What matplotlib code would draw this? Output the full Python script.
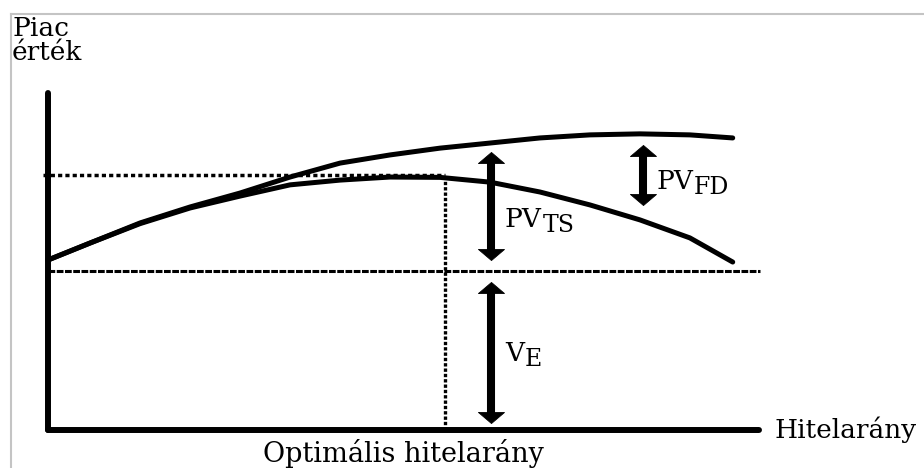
import matplotlib.pyplot as plt
from matplotlib.lines import Line2D

plt.rcParams['font.family'] = ['DejaVu Serif']

# upper curve: value with tax shield only
debt_upper = [0, 5.9, 12.9, 19.9, 26.9, 33.9, 40.9, 47.9, 54.9, 61.9, 68.9, 75.9, 82.9, 89.9, 95.9]
value_upper = [50.0, 55.0, 60.9, 65.6, 69.7, 74.4, 78.5, 80.9, 82.9, 84.4, 85.9, 86.8, 87.1, 86.8, 85.9]

# lower curve: market value (tax shield minus financial distress)
debt_lower = [0, 5.9, 12.9, 19.9, 26.9, 33.9, 40.9, 47.9, 54.9, 61.9, 68.9, 75.9, 82.9, 89.9, 95.9]
value_lower = [50.0, 55.0, 60.7, 65.3, 68.8, 72.1, 73.5, 74.4, 74.3, 72.9, 70.0, 66.2, 61.8, 56.5, 49.4]

ve_level = 46.8
opt_debt = 55.6
opt_value = 75.0

# double arrows: x, y from, y to
arrow_pvts = (62.0, 50.0, 81.8)
arrow_pvfd = (83.3, 66.2, 83.8)
arrow_ve = (62.0, 2.1, 43.5)

fig = plt.figure(figsize=(9.24, 4.68), dpi=100)
ax = fig.add_axes([48/924, 38/468, 714/924, 340/468])
ax.set_xlim(0, 100)
ax.set_ylim(0, 100)
ax.axis('off')

# light grey frame (top and left only)
fig.add_artist(Line2D([11/924, 1], [1-14/468, 1-14/468], color='#c4c4c4', lw=1.5))
fig.add_artist(Line2D([11/924, 11/924], [0, 1-14/468], color='#c4c4c4', lw=1.5))

# axes
ax.plot([0, 0], [0, 99.1], color='k', lw=4.3, solid_capstyle='round', clip_on=False)
ax.plot([0, 99.6], [0, 0], color='k', lw=4.3, solid_capstyle='round', clip_on=False)

# reference lines
ax.plot([0, 99.7], [ve_level, ve_level], color='k', lw=2.2, linestyle=(0, (2.2, 0.5)), clip_on=False)
ax.plot([-0.7, opt_debt], [opt_value, opt_value], color='k', lw=2.5, linestyle=(0, (1.2, 0.9)), clip_on=False)
ax.plot([opt_debt, opt_debt], [0, opt_value - 1], color='k', lw=2.4, linestyle=(0, (1.0, 0.6)), clip_on=False)

# curves
ax.plot(debt_upper, value_upper, color='k', lw=3.6, solid_capstyle='round', solid_joinstyle='round', clip_on=False)
ax.plot(debt_lower, value_lower, color='k', lw=3.6, solid_capstyle='round', solid_joinstyle='round', clip_on=False)

# flat triangular arrow heads, base at the marker position
head_up = [(-1, 0), (1, 0), (0, 0.85), (-1, 0)]
head_down = [(-1, 0), (1, 0), (0, -0.85), (-1, 0)]
head_len = 3.2  # y units


def double_arrow(x, y0, y1):
    ax.plot([x, x], [y0 + head_len - 0.6, y1 - head_len + 0.6], color='k', lw=5.8,
            solid_capstyle='butt', clip_on=False)
    ax.plot([x], [y1 - head_len], marker=head_up, ms=18.7, color='k', mew=0.6, clip_on=False)
    ax.plot([x], [y0 + head_len], marker=head_down, ms=18.7, color='k', mew=0.6, clip_on=False)


for a in (arrow_pvts, arrow_pvfd, arrow_ve):
    double_arrow(*a)


def label(x, y, main, sub):
    t = ax.text(x, y, main, fontsize=19, ha='left', va='bottom')
    ax.annotate(sub, xy=(1, 0), xycoords=t, xytext=(0.3, -3.6), textcoords='offset points',
                fontsize=17, ha='left', va='bottom')


label(64.0, 58.2, 'PV', 'TS')
label(85.2, 69.4, 'PV', 'FD')
label(64.0, 18.8, 'V', 'E')

ax.text(-5.04, 116.0, 'Piac', fontsize=19, ha='left', va='baseline')
ax.text(-5.04, 108.7, 'érték', fontsize=19, ha='left', va='baseline')
ax.text(101.8, -2.35, 'Hitelarány', fontsize=19, ha='left', va='baseline')
ax.text(49.8, -9.4, 'Optimális hitelarány', fontsize=19.5, ha='center', va='baseline')

plt.savefig('out.png', dpi=100)
